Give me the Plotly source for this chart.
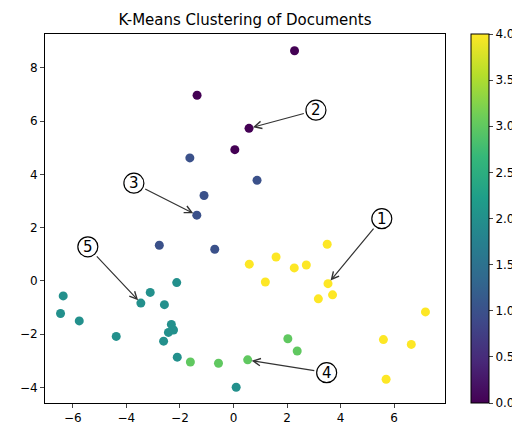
import plotly.graph_objects as go

# document coordinates and cluster ids
xs = [2.28, -1.36, 0.58, 0.05,
      -1.63, 0.88, -1.1, -1.37, -2.77, -0.7,
      -6.36, -6.46, -5.76, -4.38, -3.46, -3.11, -2.58, -2.12, -2.32, -2.24, -2.43, -2.61, -2.1, 0.1,
      -1.61, -0.56, 0.53, 2.03, 2.38,
      3.5, 1.59, 0.59, 2.27, 2.72, 1.19, 3.53, 3.7, 3.17, 7.17, 5.6, 6.64, 5.7]
ys = [8.64, 6.97, 5.73, 4.93,
      4.62, 3.78, 3.21, 2.47, 1.34, 1.19,
      -0.56, -1.22, -1.5, -2.08, -0.83, -0.43, -0.89, -0.06, -1.63, -1.84, -1.93, -2.26, -2.86, -3.99,
      -3.04, -3.09, -2.96, -2.17, -2.63,
      1.38, 0.9, 0.63, 0.49, 0.6, -0.04, -0.1, -0.52, -0.67, -1.16, -2.2, -2.38, -3.69]
clusters = [0] * 4 + [1] * 6 + [2] * 14 + [3] * 5 + [4] * 13

# numbered callouts: label, label position, target point
labels = ["1", "2", "3", "4", "5"]
label_x = [5.54, 3.08, -3.72, 3.48, -5.44]
label_y = [2.34, 6.41, 3.67, -3.44, 1.28]
target_x = [3.53, 0.58, -1.37, 0.53, -3.46]
target_y = [-0.1, 5.73, 2.47, -2.97, -0.83]

fig = go.Figure()
fig.add_trace(go.Scatter(
    x=xs, y=ys, mode="markers",
    marker=dict(size=9, color=clusters, colorscale="Viridis", cmin=0, cmax=4,
                colorbar=dict(thickness=18, len=1, y=0, yanchor="bottom", x=1.066, xanchor="left",
                              xpad=0, ypad=0, outlinecolor="black", outlinewidth=1,
                              tickvals=[0, 0.5, 1, 1.5, 2, 2.5, 3, 3.5, 4],
                              ticktext=["0.0", "0.5", "1.0", "1.5", "2.0", "2.5", "3.0", "3.5", "4.0"],
                              ticks="outside", ticklen=4)),
    showlegend=False,
))

for t, lx, ly, tx, ty in zip(labels, label_x, label_y, target_x, target_y):
    fig.add_annotation(x=tx, y=ty, ax=lx, ay=ly, axref="x", ayref="y", text="",
                       showarrow=True, arrowhead=5, arrowsize=1.2, arrowwidth=1.2,
                       arrowcolor="#333", standoff=4, startstandoff=11)
    fig.add_shape(type="circle", xref="x", yref="y", xsizemode="pixel", ysizemode="pixel",
                  xanchor=lx, yanchor=ly, x0=-10, x1=10, y0=-10, y1=10,
                  line=dict(color="black", width=1.2), fillcolor="white")
    fig.add_annotation(x=lx, y=ly, text=t, showarrow=False, font=dict(size=15, color="black"))

axis = dict(showline=True, linecolor="black", mirror=True, ticks="outside", ticklen=4,
            showgrid=False, zeroline=False)
fig.update_xaxes(range=[-7.04, 7.9], tickvals=[-6, -4, -2, 0, 2, 4, 6],
                 ticktext=["−6", "−4", "−2", "0", "2", "4", "6"], **axis)
fig.update_yaxes(range=[-4.58, 9.27], tickvals=[-4, -2, 0, 2, 4, 6, 8],
                 ticktext=["−4", "−2", "0", "2", "4", "6", "8"], **axis)
fig.update_layout(
    width=520, height=429,
    margin=dict(l=35, r=77, t=26, b=25),
    title=dict(text="K-Means Clustering of Documents", x=0.5, xref="paper", y=0.985,
               font=dict(size=15, color="black")),
    font=dict(family="DejaVu Sans", size=12, color="black"),
    plot_bgcolor="white", paper_bgcolor="white",
)
fig.write_html("out.html")
